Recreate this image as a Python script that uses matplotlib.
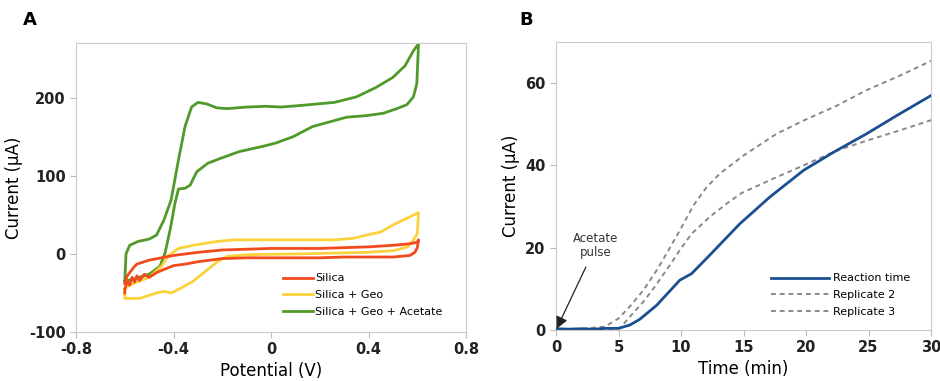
import matplotlib.pyplot as plt
import numpy as np

# ---- panel A: cyclic voltammograms (potential V, current uA) ----
silica_v = [-0.60, -0.59, -0.57, -0.56, -0.55, -0.54, -0.53, -0.52, -0.50, -0.45, -0.40, -0.30,
            -0.20, -0.10, 0.00, 0.10, 0.20, 0.30, 0.40, 0.50, 0.57, 0.60, 0.605,
            0.60, 0.59, 0.57, 0.50, 0.40, 0.30, 0.20, 0.10, 0.00, -0.10, -0.20, -0.25,
            -0.30, -0.35, -0.40, -0.44, -0.47, -0.50, -0.52, -0.54, -0.55, -0.56, -0.57,
            -0.58, -0.59, -0.60, -0.60]
silica_i = [-38, -28, -20, -16, -13, -12, -11, -10, -8, -5, -2, 2,
            5, 6, 7, 7, 7, 8, 9, 11, 13, 15, 18,
            8, 2, -2, -4, -4, -4, -5, -5, -5, -5, -6, -8,
            -10, -13, -15, -20, -24, -30, -26, -34, -28, -36, -30,
            -40, -35, -45, -50]

geo_v = [-0.60, -0.58, -0.55, -0.50, -0.45, -0.42, -0.38, -0.32, -0.22, -0.15, 0.00, 0.15,
         0.26, 0.34, 0.39, 0.45, 0.50, 0.56, 0.605,
         0.60, 0.58, 0.56, 0.50, 0.39, 0.12, -0.09, -0.18, -0.22, -0.26, -0.32, -0.37,
         -0.41, -0.44, -0.47, -0.54, -0.60, -0.60]
geo_i = [-45, -40, -36, -30, -16, -2, 7, 11, 16, 18, 18, 18,
         18, 20, 24, 28, 37, 46, 53,
         26, 16, 9, 4, 2, 0, -1, -3, -10, -20, -35, -44,
         -50, -48, -50, -57, -57, -45]

acet_v = [-0.60, -0.595, -0.58, -0.545, -0.50, -0.47, -0.44, -0.41, -0.38, -0.353, -0.326,
          -0.30, -0.264, -0.223, -0.18, -0.10, -0.02, 0.04, 0.12, 0.26, 0.35, 0.43, 0.50,
          0.55, 0.584, 0.605,
          0.598, 0.584, 0.557, 0.516, 0.46, 0.39, 0.31, 0.24, 0.17, 0.09, 0.02, -0.03,
          -0.13, -0.21, -0.26, -0.305, -0.332, -0.353, -0.38, -0.394, -0.414, -0.435,
          -0.456, -0.50, -0.55, -0.60]
acet_i = [-35, 0, 11, 16, 19, 24, 43, 69, 120, 163, 188,
          194, 192, 187, 186, 188, 189, 188, 190, 194, 201, 213, 226,
          241, 260, 269,
          218, 201, 191, 186, 180, 177, 175, 169, 163, 150, 142, 138,
          131, 122, 116, 105, 88, 84, 83, 65, 31, 1,
          -16, -26, -31, -35]

# ---- panel B: current after acetate pulse ----
t_react = [0, 1, 2, 3, 4, 5, 5.9, 6.7, 8.05, 9.9, 10.85, 12.3, 14.7, 17.1, 19.8, 22.2,
           24.85, 27.25, 29.9, 30]
i_react = [0.3, 0.2, 0.3, 0.2, 0.4, 0.4, 1.2, 2.6, 6.0, 12.1, 13.7, 18.2, 25.8, 32.3, 38.8,
           43.2, 47.7, 52.1, 56.8, 57.0]
t_rep2 = [0, 2, 3.9, 5, 5.9, 7, 8.05, 8.85, 9.9, 11, 12.05, 13.1, 15, 17.65, 19.8, 22.45,
          24.85, 27.5, 30]
i_rep2 = [0.2, 0.3, 0.8, 2.8, 5.7, 9.7, 14.5, 18.6, 24.2, 30.3, 34.7, 38.0, 42.4, 47.7,
          50.9, 54.5, 58.3, 61.8, 65.4]
t_rep3 = [0, 2, 4, 5.1, 5.9, 7, 7.9, 9, 9.9, 10.85, 12.3, 13.65, 14.85, 17.4, 19.8, 22.45,
          24.85, 27.5, 30]
i_rep3 = [0.1, 0.2, 0.2, 0.4, 3.2, 6.9, 10.5, 15.3, 19.4, 23.4, 27.5, 30.7, 33.3, 36.8,
          40.0, 43.6, 46.0, 48.5, 51.0]

plt.rcParams['font.family'] = 'DejaVu Sans'

fig = plt.figure(figsize=(9.4, 3.81), dpi=100)
axA = fig.add_axes([0.0809, 0.1286, 0.4149, 0.7585])
axB = fig.add_axes([0.5915, 0.1339, 0.399, 0.756])

spine_col = '#cccccc'
for ax in (axA, axB):
    for s in ax.spines.values():
        s.set_color(spine_col)
    ax.tick_params(direction='out', length=4, color='#bbbbbb', labelsize=10.5,
                   labelcolor='#222222')

axA.plot(silica_v, silica_i, color='#f24a1d', lw=2, label='Silica', zorder=3)
axA.plot(geo_v, geo_i, color='#fad23c', lw=2, label='Silica + Geo', zorder=2)
axA.plot(acet_v, acet_i, color='#4f9a2a', lw=2, label='Silica + Geo + Acetate', zorder=1)
axA.set_xlim(-0.8, 0.8)
axA.set_ylim(-100, 270)
axA.set_xticks([-0.8, -0.4, 0, 0.4, 0.8])
axA.set_xticklabels(['-0.8', '-0.4', '0', '0.4', '0.8'], fontweight='bold')
axA.set_yticks([-100, 0, 100, 200])
axA.set_yticklabels(['-100', '0', '100', '200'], fontweight='bold')
axA.set_xlabel('Potential (V)', fontsize=12, labelpad=3)
axA.set_ylabel('Current (µA)', fontsize=12, labelpad=4)
axA.legend(loc='lower right', bbox_to_anchor=(0.965, 0.018), frameon=False, fontsize=8,
           handlelength=2.7, labelspacing=0.6, handletextpad=0.2)

axB.plot(t_react, i_react, color='#1c4f91', lw=2, label='Reaction time', zorder=3)
axB.plot(t_rep2, i_rep2, color='#888888', lw=1.4, ls=(0, (2.5, 2)), label='Replicate 2')
axB.plot(t_rep3, i_rep3, color='#888888', lw=1.4, ls=(0, (2.5, 2)), label='Replicate 3')
axB.set_xlim(0, 30)
axB.set_ylim(0, 70)
axB.set_xticks([0, 5, 10, 15, 20, 25, 30])
axB.set_xticklabels(['0', '5', '10', '15', '20', '25', '30'], fontweight='bold')
axB.set_yticks([0, 20, 40, 60])
axB.set_yticklabels(['0', '20', '40', '60'], fontweight='bold')
axB.set_xlabel('Time (min)', fontsize=12, labelpad=3)
axB.set_ylabel('Current (µA)', fontsize=12, labelpad=4)
axB.legend(loc='lower right', bbox_to_anchor=(0.97, 0.011), frameon=False, fontsize=8,
           handlelength=5.2, labelspacing=0.6, handletextpad=0.3)
axB.annotate('Acetate\npulse', xy=(0.05, 0.3), xytext=(3.2, 20.5), fontsize=8.5,
             ha='center', va='center', color='#333333', linespacing=1.1,
             arrowprops=dict(arrowstyle='-|>', color='#222222', lw=0.9,
                             mutation_scale=18, shrinkA=4, shrinkB=0))

fig.text(0.024, 0.935, 'A', fontsize=13, fontweight='bold')
fig.text(0.553, 0.935, 'B', fontsize=13, fontweight='bold')

fig.savefig('out.png', dpi=100)
